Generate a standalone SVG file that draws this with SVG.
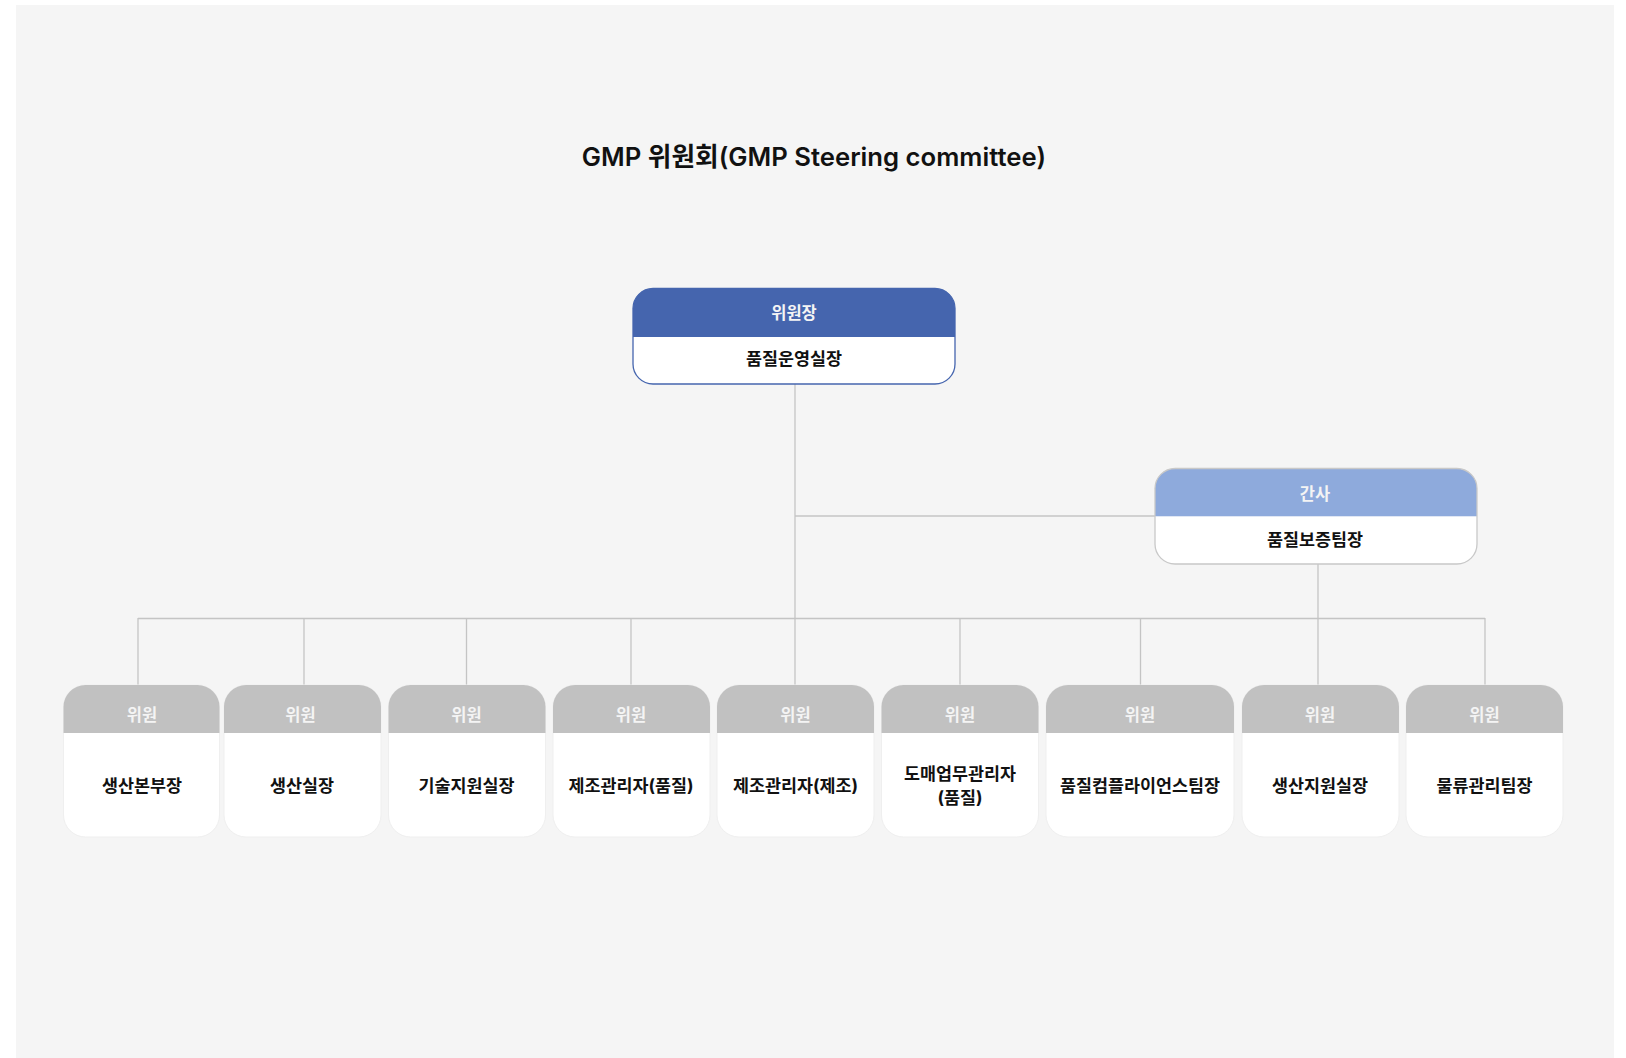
<svg xmlns="http://www.w3.org/2000/svg" width="1626" height="1058" viewBox="0 0 1626 1058">
<style>
text{font-family:"Inter","Noto Sans CJK KR","Noto Sans",sans-serif;text-anchor:middle}
.title{font-size:25.7px;font-weight:600;fill:#111}
.hd{font-size:16.5px;font-weight:700;fill:#f4f4f4}
.bd{font-size:17.4px;font-weight:700;fill:#111}
.mh{fill:#c1c1c1}
.mb{fill:#ffffff;stroke:#efefef;stroke-width:1}
.conn{stroke:#c4c4c4;stroke-width:1.3;fill:none}
</style>
<rect x="16" y="5" width="1598" height="1053" fill="#f5f5f5"/>
<text class="title" x="814" y="166">GMP 위원회(GMP Steering committee)</text>

<g id="connectors">
<line class="conn" x1="795" y1="384" x2="795" y2="685"/>
<line class="conn" x1="795" y1="516" x2="1155" y2="516"/>
<line class="conn" x1="1318" y1="564" x2="1318" y2="685"/>
<line class="conn" x1="138" y1="618.5" x2="1485" y2="618.5"/>
<line class="conn" x1="138" y1="618" x2="138" y2="685"/>
<line class="conn" x1="304" y1="618" x2="304" y2="685"/>
<line class="conn" x1="466.5" y1="618" x2="466.5" y2="685"/>
<line class="conn" x1="631" y1="618" x2="631" y2="685"/>
<line class="conn" x1="960" y1="618" x2="960" y2="685"/>
<line class="conn" x1="1140.5" y1="618" x2="1140.5" y2="685"/>
<line class="conn" x1="1485" y1="618" x2="1485" y2="685"/>
</g>

<g id="chair">
<path d="M653,288.5 H935 A20,20 0 0 1 955,308.5 V337 H633 V308.5 A20,20 0 0 1 653,288.5 Z" fill="#4565ae"/>
<path d="M633,337 H955 V364 A20,20 0 0 1 935,384 H653 A20,20 0 0 1 633,364 Z" fill="#ffffff"/>
<rect x="633" y="288.5" width="322" height="95.5" rx="20" fill="none" stroke="#4565ae" stroke-width="1.3"/>
<text class="hd" x="794" y="319">위원장</text>
<text class="bd" x="794" y="365">품질운영실장</text>
</g>

<g id="secretary">
<path d="M1175,468.5 H1457 A20,20 0 0 1 1477,488.5 V516.5 H1155 V488.5 A20,20 0 0 1 1175,468.5 Z" fill="#8eaadc"/>
<path d="M1155,516.5 H1477 V544 A20,20 0 0 1 1457,564 H1175 A20,20 0 0 1 1155,544 Z" fill="#ffffff"/>
<rect x="1155" y="468.5" width="322" height="95.5" rx="20" fill="none" stroke="#c8c8c8" stroke-width="1.3"/>
<text class="hd" x="1315" y="500">간사</text>
<text class="bd" x="1315" y="546">품질보증팀장</text>
</g>

<g id="m1">
<rect class="mb" x="63.5" y="685" width="156" height="152" rx="22"/>
<path class="mh" d="M85.5,685 H197.5 A22,22 0 0 1 219.5,707 V733 H63.5 V707 A22,22 0 0 1 85.5,685 Z"/>
<text class="hd" x="142" y="721">위원</text>
<text class="bd" x="142" y="792">생산본부장</text>
</g>
<g id="m2">
<rect class="mb" x="224" y="685" width="157" height="152" rx="22"/>
<path class="mh" d="M246,685 H359 A22,22 0 0 1 381,707 V733 H224 V707 A22,22 0 0 1 246,685 Z"/>
<text class="hd" x="300.5" y="721">위원</text>
<text class="bd" x="302" y="792">생산실장</text>
</g>
<g id="m3">
<rect class="mb" x="388.5" y="685" width="157" height="152" rx="22"/>
<path class="mh" d="M410.5,685 H523.5 A22,22 0 0 1 545.5,707 V733 H388.5 V707 A22,22 0 0 1 410.5,685 Z"/>
<text class="hd" x="466.5" y="721">위원</text>
<text class="bd" x="466.5" y="792">기술지원실장</text>
</g>
<g id="m4">
<rect class="mb" x="553" y="685" width="157" height="152" rx="22"/>
<path class="mh" d="M575,685 H688 A22,22 0 0 1 710,707 V733 H553 V707 A22,22 0 0 1 575,685 Z"/>
<text class="hd" x="631" y="721">위원</text>
<text class="bd" x="631" y="792">제조관리자(품질)</text>
</g>
<g id="m5">
<rect class="mb" x="717" y="685" width="157" height="152" rx="22"/>
<path class="mh" d="M739,685 H852 A22,22 0 0 1 874,707 V733 H717 V707 A22,22 0 0 1 739,685 Z"/>
<text class="hd" x="795.5" y="721">위원</text>
<text class="bd" x="795.5" y="792">제조관리자(제조)</text>
</g>
<g id="m6">
<rect class="mb" x="881.5" y="685" width="157" height="152" rx="22"/>
<path class="mh" d="M903.5,685 H1016.5 A22,22 0 0 1 1038.5,707 V733 H881.5 V707 A22,22 0 0 1 903.5,685 Z"/>
<text class="hd" x="960" y="721">위원</text>
<text class="bd" x="960" y="780">도매업무관리자</text>
<text class="bd" x="960" y="804">(품질)</text>
</g>
<g id="m7">
<rect class="mb" x="1046" y="685" width="188" height="152" rx="22"/>
<path class="mh" d="M1068,685 H1212 A22,22 0 0 1 1234,707 V733 H1046 V707 A22,22 0 0 1 1068,685 Z"/>
<text class="hd" x="1140" y="721">위원</text>
<text class="bd" x="1140" y="792">품질컴플라이언스팀장</text>
</g>
<g id="m8">
<rect class="mb" x="1242" y="685" width="157" height="152" rx="22"/>
<path class="mh" d="M1264,685 H1377 A22,22 0 0 1 1399,707 V733 H1242 V707 A22,22 0 0 1 1264,685 Z"/>
<text class="hd" x="1320" y="721">위원</text>
<text class="bd" x="1320" y="792">생산지원실장</text>
</g>
<g id="m9">
<rect class="mb" x="1406" y="685" width="157" height="152" rx="22"/>
<path class="mh" d="M1428,685 H1541 A22,22 0 0 1 1563,707 V733 H1406 V707 A22,22 0 0 1 1428,685 Z"/>
<text class="hd" x="1484.5" y="721">위원</text>
<text class="bd" x="1484.5" y="792">물류관리팀장</text>
</g>
</svg>
